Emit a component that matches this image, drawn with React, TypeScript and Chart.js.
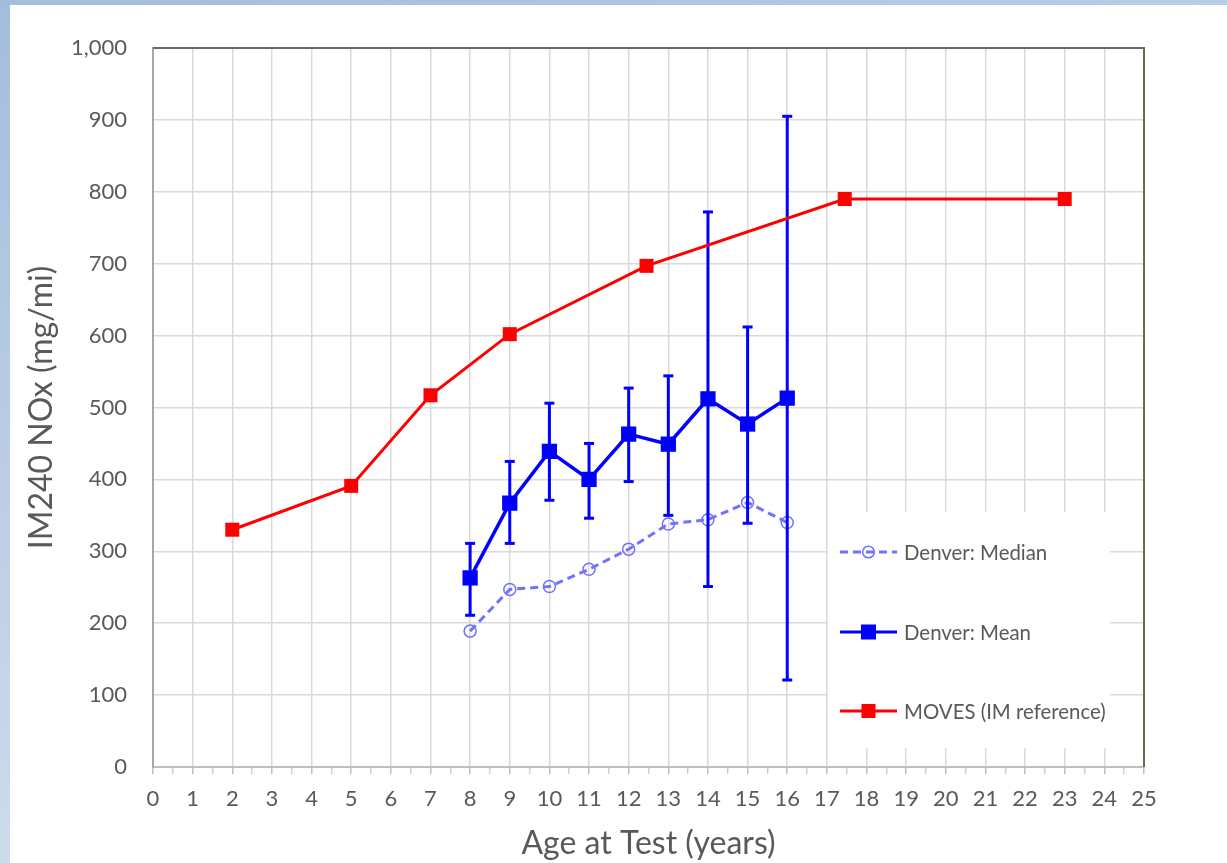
import React, { useEffect, useRef } from "react";
import { Chart, registerables } from "chart.js";

Chart.register(...registerables);

// ---- data ----
const ages = [8, 9, 10, 11, 12, 13, 14, 15, 16];
const meanValues = [263, 367, 439, 400, 463, 449, 512, 477, 513];
const meanErrHigh = [311, 425, 506, 450, 527, 544, 772, 612, 905];
const meanErrLow = [211, 311, 371, 346, 397, 350, 251, 339, 121];
const medianValues = [189, 247, 251, 275, 303, 338, 344, 368, 340];
const movesAges = [2, 5, 7, 9, 12.45, 17.45, 23];
const movesValues = [330, 391, 517, 602, 697, 790, 790];
const seriesNames = ["Denver: Median", "Denver: Mean", "MOVES (IM reference)"];
const xTitle = "Age at Test (years)";
const yTitle = "IM240 NOx (mg/mi)";
const xMin = 0;
const xMax = 25;
const yMin = 0;
const yMax = 1000;
const yStep = 100;

const FONT = "Lato, 'Open Sans', sans-serif";
const TEXT = "#595959";
const MEDIAN_COLOR = "#7272fa";
const MEAN_COLOR = "#0000ff";
const MOVES_COLOR = "#ff0000";

const framePlugin = {
  id: "plotFrame",
  beforeDatasetsDraw(chart: any) {
    const { ctx, chartArea } = chart;
    ctx.save();
    ctx.strokeStyle = "#6b6b5a";
    ctx.lineWidth = 2;
    ctx.beginPath();
    ctx.moveTo(chartArea.left, chartArea.top);
    ctx.lineTo(chartArea.right, chartArea.top);
    ctx.lineTo(chartArea.right, chartArea.bottom);
    ctx.stroke();
    ctx.restore();
  },
};

const legendPlugin = {
  id: "insideLegend",
  afterDatasetsDraw(chart: any) {
    const { ctx, chartArea } = chart;
    const ox = chartArea.left;
    const oy = chartArea.top;
    // box relative to plot area
    const bx = ox + 675;
    const by = oy + 464;
    const bw = 282;
    const bh = 236;
    ctx.save();
    ctx.fillStyle = "#ffffff";
    ctx.fillRect(bx, by, bw, bh);
    const items = [
      { label: seriesNames[0], color: MEDIAN_COLOR, dash: [8, 5], marker: "circle", y: oy + 504 },
      { label: seriesNames[1], color: MEAN_COLOR, dash: [], marker: "square", y: oy + 584 },
      { label: seriesNames[2], color: MOVES_COLOR, dash: [], marker: "squareS", y: oy + 663 },
    ];
    const sx0 = ox + 687;
    const sx1 = ox + 744;
    const mx = (sx0 + sx1) / 2;
    items.forEach((it) => {
      ctx.strokeStyle = it.color;
      ctx.lineWidth = 3;
      ctx.setLineDash(it.dash);
      ctx.beginPath();
      ctx.moveTo(sx0, it.y);
      ctx.lineTo(sx1, it.y);
      ctx.stroke();
      ctx.setLineDash([]);
      if (it.marker === "circle") {
        ctx.lineWidth = 1.5;
        ctx.beginPath();
        ctx.arc(mx, it.y, 5.8, 0, Math.PI * 2);
        ctx.stroke();
      } else {
        const s = it.marker === "square" ? 15 : 14;
        ctx.fillStyle = it.color;
        ctx.fillRect(mx - s / 2, it.y - s / 2, s, s);
      }
      ctx.fillStyle = TEXT;
      ctx.font = `20.4px ${FONT}`;
      ctx.textBaseline = "middle";
      ctx.textAlign = "left";
      ctx.fillText(it.label, ox + 751, it.y + 1);
    });
    ctx.restore();
  },
};

export default function App() {
  const ref = useRef<HTMLCanvasElement>(null);

  useEffect(() => {
    if (!ref.current) return;
    const errData: any[] = [];
    ages.forEach((a, i) => {
      errData.push({ x: a, y: meanErrLow[i] });
      errData.push({ x: a, y: meanErrHigh[i] });
      errData.push({ x: a, y: null });
    });
    const chart = new Chart(ref.current, {
      type: "line",
      data: {
        datasets: [
          {
            label: seriesNames[2],
            data: movesAges.map((a, i) => ({ x: a, y: movesValues[i] })),
            borderColor: MOVES_COLOR,
            backgroundColor: MOVES_COLOR,
            borderWidth: 3,
            pointStyle: "rect",
            pointRadius: 9.9,
            pointBorderWidth: 0,
            tension: 0,
            order: 0,
          },
          {
            label: seriesNames[1],
            data: ages.map((a, i) => ({ x: a, y: meanValues[i] })),
            borderColor: MEAN_COLOR,
            backgroundColor: MEAN_COLOR,
            borderWidth: 3.5,
            pointStyle: "rect",
            pointRadius: 10.8,
            pointBorderWidth: 0,
            tension: 0,
            order: 1,
          },
          {
            label: "Mean error",
            data: errData,
            borderColor: MEAN_COLOR,
            backgroundColor: MEAN_COLOR,
            borderWidth: 3,
            pointStyle: "line",
            pointRadius: 5,
            pointBorderWidth: 3,
            spanGaps: false,
            tension: 0,
            order: 2,
          },
          {
            label: seriesNames[0],
            data: ages.map((a, i) => ({ x: a, y: medianValues[i] })),
            borderColor: MEDIAN_COLOR,
            backgroundColor: "rgba(0,0,0,0)",
            borderWidth: 3,
            borderDash: [8, 5],
            pointStyle: "circle",
            pointRadius: 6,
            pointBorderWidth: 1.5,
            pointBorderColor: MEDIAN_COLOR,
            pointBackgroundColor: "rgba(0,0,0,0)",
            tension: 0,
            order: 3,
          },
        ],
      },
      options: {
        animation: false,
        responsive: false,
        events: [],
        layout: { padding: { top: 43, right: 83, left: 0, bottom: 0 } },
        plugins: {
          legend: { display: false },
          tooltip: { enabled: false },
        },
        scales: {
          x: {
            type: "linear",
            min: xMin,
            max: xMax,
            afterFit: (s: any) => {
              s.height = 96;
            },
            ticks: {
              stepSize: 0.5,
              autoSkip: false,
              maxRotation: 0,
              padding: 12,
              color: TEXT,
              font: { family: FONT, size: 22 },
              callback: (v: any) => (Number.isInteger(v) ? String(v) : ""),
            },
            grid: {
              color: (c: any) =>
                c.tick && Number.isInteger(c.tick.value) ? "#d9d9d9" : "rgba(0,0,0,0)",
              lineWidth: 1.5,
              drawTicks: true,
              tickLength: 7,
              tickColor: (c: any) =>
                c.tick && Number.isInteger(c.tick.value) ? "#bfbfbf" : "#cfcfcf",
              tickWidth: 1.5,
            },
            border: { display: true, color: "#bfbfbf", width: 2 },
            title: {
              display: true,
              text: xTitle,
              color: TEXT,
              font: { family: FONT, size: 32 },
              padding: { top: 0, bottom: 0 },
            },
          },
          y: {
            type: "linear",
            min: yMin,
            max: yMax,
            afterFit: (s: any) => {
              s.width = 143;
            },
            ticks: {
              stepSize: yStep,
              padding: 26,
              color: TEXT,
              font: { family: FONT, size: 22 },
              callback: (v: any) => Number(v).toLocaleString("en-US"),
            },
            grid: {
              color: "#d9d9d9",
              lineWidth: 1.5,
              drawTicks: false,
            },
            border: { display: true, color: "#a6a6a6", width: 2 },
            title: {
              display: true,
              text: yTitle,
              color: TEXT,
              font: { family: FONT, size: 32 },
              padding: { top: 12, bottom: 0 },
            },
          },
        },
      },
      plugins: [framePlugin, legendPlugin],
    });
    return () => chart.destroy();
  }, []);

  return (
    <div
      style={{
        position: "fixed",
        left: 0,
        top: 0,
        width: 1227,
        height: 863,
        background: "linear-gradient(160deg, #a4bddc 0%, #c6d6ea 55%, #e4ebf5 100%)",
        overflow: "hidden",
      }}
    >
      <div
        style={{
          position: "absolute",
          left: 10,
          top: 5,
          width: 1217,
          height: 858,
          background: "#ffffff",
        }}
      >
        <canvas ref={ref} width={1217} height={858} style={{ display: "block" }} />
      </div>
    </div>
  );
}
